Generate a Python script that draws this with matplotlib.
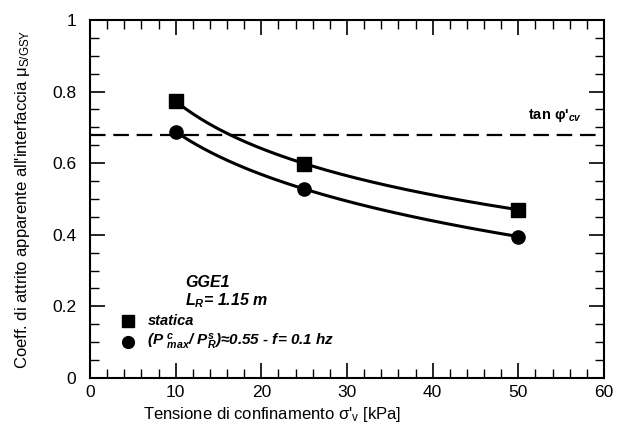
import numpy as np
import matplotlib
matplotlib.use("Agg")
import matplotlib.pyplot as plt
from matplotlib.ticker import MultipleLocator

plt.rcParams['font.family'] = ['Liberation Sans', 'DejaVu Sans']
plt.rcParams['mathtext.fontset'] = 'custom'
plt.rcParams['mathtext.rm'] = 'Liberation Sans'
plt.rcParams['mathtext.it'] = 'Liberation Sans:bold:italic'
plt.rcParams['mathtext.bf'] = 'Liberation Sans:bold'

# ---------------------
# Data
# ---------------------
sigma = [10, 25, 50]
mu_statica = [0.773, 0.599, 0.470]
mu_ciclica = [0.688, 0.528, 0.395]
tan_phi_cv = 0.68

# ---------------------
# Figure
# ---------------------
fig = plt.figure(figsize=(6.23, 4.30), dpi=100)
ax = fig.add_axes([0.1445, 0.121, 0.825, 0.8325])

# smooth trend curves (quadratic in log(sigma) through the three points)
xs = np.linspace(sigma[0], sigma[-1], 200)
for ys in (mu_statica, mu_ciclica):
    c = np.polyfit(np.log(sigma), ys, 2)
    ax.plot(xs, np.polyval(c, np.log(xs)), color='black', lw=2.2, zorder=2)

ax.plot(sigma, mu_statica, 's', color='black', ms=10, zorder=3)
ax.plot(sigma, mu_ciclica, 'o', color='black', ms=9.5, zorder=3)

ax.axhline(tan_phi_cv, color='black', lw=1.6, dashes=(7, 3.5), zorder=1)
ax.text(57.4, tan_phi_cv + 0.03, "tan φ'" + r"$_{cv}$", fontsize=10.5,
        fontweight='bold', ha='right', va='bottom')

# annotations / legend
bi = dict(fontweight='bold', style='italic', va='center')
ax.text(11.1, 0.266, "GGE1", fontsize=11.5, ha='left', **bi)
ax.text(11.1, 0.216, r"$L_R$= 1.15 m", fontsize=11.5, ha='left', **bi)
ax.plot([4.4], [0.159], 's', color='black', ms=8.5)
ax.text(6.8, 0.159, "statica", fontsize=10.5, **bi)
ax.plot([4.4], [0.1], 'o', color='black', ms=8.5)
ax.text(6.7, 0.1, r"(P $^{c}_{max}$/ P$_{R}^{s}$)≈0.55 - f= 0.1 hz",
        fontsize=11, **bi)

ax.set_xlim(0, 60)
ax.set_ylim(0, 1)
ax.xaxis.set_major_locator(MultipleLocator(10))
ax.xaxis.set_minor_locator(MultipleLocator(2))
ax.yaxis.set_minor_locator(MultipleLocator(0.05))
ax.set_yticks([0, 0.2, 0.4, 0.6, 0.8, 1.0])
ax.set_yticklabels(['0', '0.2', '0.4', '0.6', '0.8', '1'])
ax.tick_params(which='both', direction='in', top=True, right=True, labelsize=12.5)
ax.tick_params(axis='y', pad=10)
ax.tick_params(axis='x', pad=5)
ax.tick_params(which='major', length=11, width=1.2)
ax.tick_params(which='minor', length=6.5, width=1)
for s in ax.spines.values():
    s.set_linewidth(1.5)

ax.set_xlabel(r"Tensione di confinamento σ'$_\mathrm{v}$ [kPa]", fontsize=12, va='top')
ax.xaxis.set_label_coords(0.354, -0.075)
ax.set_ylabel(r"Coeff. di attrito apparente all'interfaccia μ$_\mathrm{S/GSY}$", fontsize=12)
ax.yaxis.set_label_coords(-0.113, 0.5)

fig.savefig("out.png", dpi=100)
